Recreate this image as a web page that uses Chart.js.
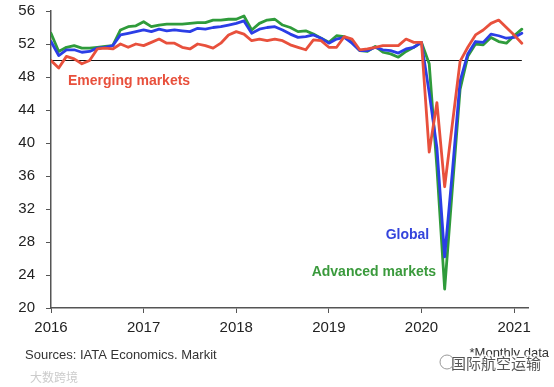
<!DOCTYPE html>
<html>
<head>
<meta charset="utf-8">
<script src="https://cdn.jsdelivr.net/npm/chart.js@4.4.0/dist/chart.umd.min.js"></script>
<style>
  html, body { margin: 0; padding: 0; background: #fff; }
  canvas { display: block; }
</style>
</head>
<body>
<canvas id="pmiChart" width="554" height="387"></canvas>
<script>
// monthly composite PMI, Jan 2016 .. Feb 2021 (month index 0 = Jan 2016)
var startYear = 2016;
var yearTicks = [0, 12, 24, 36, 48, 60];
var yTicks = [20, 24, 28, 32, 36, 40, 44, 48, 52, 56];

var globalPmi = [
  52.3, 50.6, 51.3, 51.3, 51.0, 51.1, 51.5, 51.6, 51.8, 53.1, 53.3, 53.5,
  53.7, 53.5, 53.8, 53.6, 53.7, 53.6, 53.5, 53.9, 53.8, 54.0, 54.1, 54.3,
  54.5, 54.8, 53.3, 53.8, 54.0, 54.1, 53.7, 53.2, 52.8, 52.9, 53.1, 52.7,
  52.1, 52.6, 52.8, 52.1, 51.2, 51.2, 51.6, 51.3, 51.2, 50.9, 51.4, 51.6,
  52.2, 46.1, 39.4, 26.2, 36.5, 47.5, 50.8, 52.3, 52.2, 53.2, 53.0, 52.7,
  52.8, 53.3
];

var advancedPmi = [
  53.3, 51.1, 51.6, 51.8, 51.5, 51.5, 51.6, 51.7, 51.8, 53.7, 54.1, 54.2,
  54.7, 54.1, 54.3, 54.4, 54.4, 54.4, 54.5, 54.6, 54.6, 54.9, 54.9, 55.0,
  55.0, 55.4, 53.7, 54.5, 54.9, 55.0, 54.3, 54.0, 53.5, 53.6, 53.2, 52.7,
  52.2, 53.0, 52.9, 52.2, 51.2, 51.1, 51.7, 51.0, 50.8, 50.4, 51.1, 51.6,
  52.2, 49.6, 37.0, 22.3, 34.5, 46.5, 50.5, 52.0, 51.9, 52.8, 52.3, 52.1,
  53.0, 53.8
];

var emergingPmi = [
  50.0, 49.1, 50.5, 50.2, 49.6, 50.0, 51.4, 51.5, 51.4, 52.0, 51.6, 52.0,
  51.8, 52.2, 52.6, 52.1, 52.1, 51.6, 51.4, 52.0, 51.8, 51.5, 52.1, 53.1,
  53.5, 53.2, 52.4, 52.6, 52.4, 52.6, 52.4, 51.9, 51.6, 51.3, 52.5, 52.4,
  51.6, 51.6, 52.9, 52.6, 51.3, 51.4, 51.6, 51.8, 51.8, 51.8, 52.6, 52.2,
  52.2, 38.9, 44.9, 34.7, 42.3, 49.9, 51.6, 53.1, 53.7, 54.5, 54.9, 54.0,
  53.1, 52.1
];

var threshold = 50;

// in-chart labels: text, colour, anchor month, anchor value, alignment
var seriesLabels = [
  { text: "Emerging markets", color: "#E8503C", x: 2.2, y: 47.5, align: "left" },
  { text: "Global", color: "#3444DC", x: 49.0, y: 28.85, align: "right" },
  { text: "Advanced markets", color: "#3A9A3C", x: 49.9, y: 24.3, align: "right" }
];

function toPoints(arr) {
  return arr.map(function (v, i) { return { x: i, y: v }; });
}

var fontFamily = "'Liberation Sans', Arial, Helvetica, sans-serif";

var lineStyle = {
  pointRadius: 0,
  borderWidth: 2.8,
  tension: 0,
  borderJoinStyle: 'round',
  borderCapStyle: 'round',
  fill: false
};

var labelPlugin = {
  id: 'seriesLabels',
  afterDatasetsDraw: function (chart) {
    var ctx = chart.ctx;
    var xs = chart.scales.x, ys = chart.scales.y;
    ctx.save();
    ctx.font = "bold 14px " + fontFamily;
    ctx.textBaseline = "middle";
    seriesLabels.forEach(function (l) {
      ctx.fillStyle = l.color;
      ctx.textAlign = l.align;
      ctx.fillText(l.text, xs.getPixelForValue(l.x), ys.getPixelForValue(l.y));
    });

    // footer notes
    ctx.textAlign = "left";
    ctx.font = "13px " + fontFamily;
    ctx.fillStyle = "#333";
    ctx.fillText("Sources: IATA Economics. Markit", 25, 355);
    ctx.textAlign = "right";
    ctx.fillText("*Monthly data", 549, 353);

    // watermarks
    ctx.font = "15px 'Noto Sans CJK SC', sans-serif";
    ctx.lineWidth = 3;
    ctx.strokeStyle = "rgba(255,255,255,0.9)";
    ctx.fillStyle = "#555";
    ctx.strokeText("国际航空运输", 541, 363);
    ctx.fillText("国际航空运输", 541, 363);
    ctx.beginPath();
    ctx.arc(447, 362, 7, 0, Math.PI * 2);
    ctx.strokeStyle = "#999";
    ctx.lineWidth = 1;
    ctx.stroke();
    ctx.textAlign = "left";
    ctx.font = "12px 'Noto Sans CJK SC', sans-serif";
    ctx.fillStyle = "#ccc";
    ctx.fillText("大数跨境", 30, 377);
    ctx.restore();
  }
};

var ctx = document.getElementById("pmiChart").getContext("2d");

var pmiChart = new Chart(ctx, {
  type: 'line',
  data: {
    datasets: [
      Object.assign({ label: 'Emerging markets', data: toPoints(emergingPmi), borderColor: '#E8503C' }, lineStyle),
      Object.assign({ label: 'Global', data: toPoints(globalPmi), borderColor: '#2B3EE6' }, lineStyle),
      Object.assign({ label: 'Advanced markets', data: toPoints(advancedPmi), borderColor: '#2F9B3B' }, lineStyle),
      {
        label: 'threshold',
        data: [{ x: 0, y: threshold }, { x: globalPmi.length - 1, y: threshold }],
        borderColor: '#111', borderWidth: 1.2, pointRadius: 0, fill: false
      }
    ]
  },
  options: {
    responsive: false,
    animation: false,
    devicePixelRatio: 1,
    layout: { padding: { left: 0, right: 26, top: 11, bottom: 0 } },
    plugins: {
      legend: { display: false },
      tooltip: { enabled: false }
    },
    scales: {
      x: {
        type: 'linear',
        min: 0,
        max: 61.8,
        afterBuildTicks: function (scale) {
          scale.ticks = yearTicks.map(function (v) { return { value: v }; });
        },
        afterFit: function (scale) { scale.height = 79; },
        ticks: {
          color: '#222',
          font: { family: fontFamily, size: 15 },
          padding: 6,
          maxRotation: 0,
          callback: function (v) { return String(startYear + v / 12); }
        },
        grid: { drawOnChartArea: false, drawTicks: true, tickLength: 5, color: '#555', lineWidth: 1 },
        border: { display: true, color: '#555', width: 1.5 }
      },
      y: {
        min: 20,
        max: 56,
        afterBuildTicks: function (scale) {
          scale.ticks = yTicks.map(function (v) { return { value: v }; });
        },
        afterFit: function (scale) {
          scale.width = 51;
          scale.paddingTop = 0;
          scale.paddingBottom = 0;
        },
        ticks: {
          color: '#222',
          font: { family: fontFamily, size: 15 },
          padding: 11
        },
        grid: { drawOnChartArea: false, drawTicks: true, tickLength: 5, color: '#555', lineWidth: 1 },
        border: { display: true, color: '#555', width: 1.5 }
      }
    }
  },
  plugins: [labelPlugin]
});
</script>
</body>
</html>
